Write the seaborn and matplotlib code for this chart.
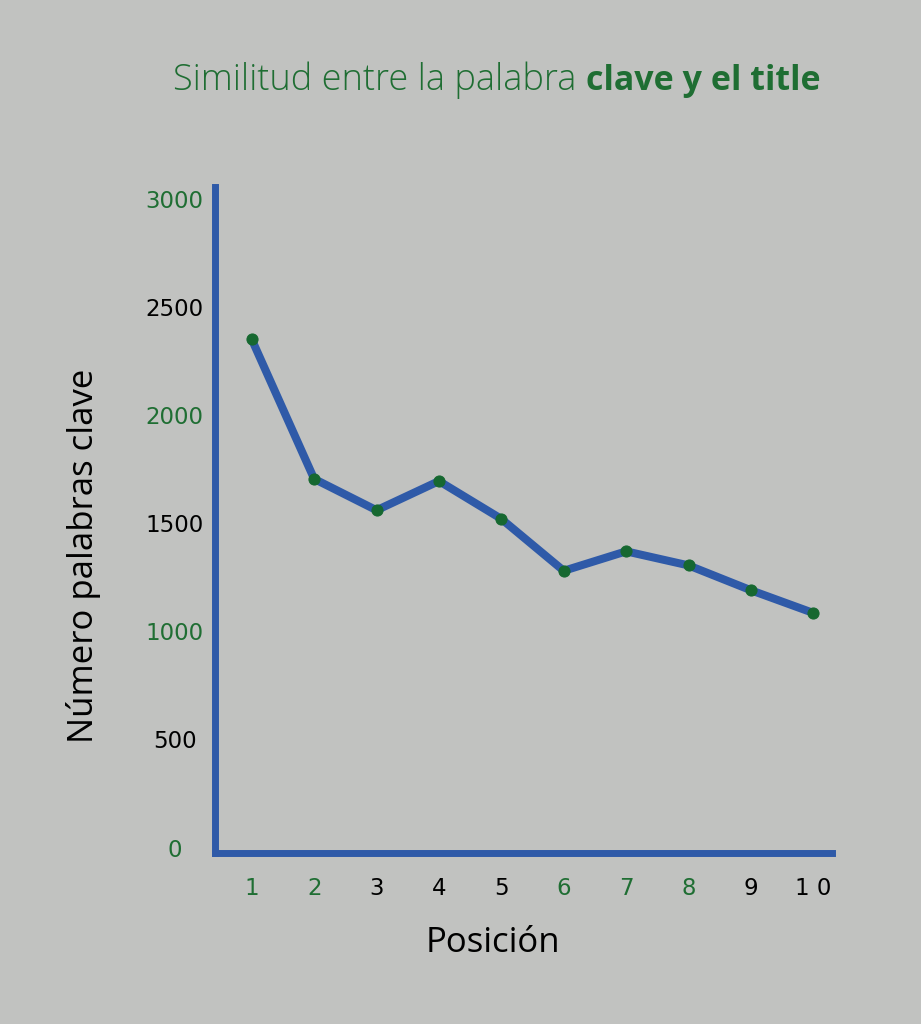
import matplotlib
matplotlib.use('Agg')
import matplotlib.pyplot as plt
import seaborn as sns
import pandas as pd

# data
posicion = [1, 2, 3, 4, 5, 6, 7, 8, 9, 10]
palabras = [2350, 1705, 1560, 1695, 1520, 1280, 1370, 1305, 1190, 1085]
x_labels = ['1', '2', '3', '4', '5', '6', '7', '8', '9', '1 0']
y_ticks = [0, 500, 1000, 1500, 2000, 2500, 3000]

bg = '#c1c2c0'
blue = '#2f5aa8'
green_dot = '#166830'
green_txt = '#1f6e33'
x_colors = [green_txt, green_txt, 'black', 'black', 'black', green_txt, green_txt, green_txt, 'black', 'black']
y_colors = [green_txt, 'black', green_txt, 'black', green_txt, 'black', green_txt]

sns.set_style('white')
plt.rcParams['font.family'] = ['Open Sans', 'DejaVu Sans']

df = pd.DataFrame({'Posición': posicion, 'Palabras': palabras})

fig = plt.figure(figsize=(9.21, 10.24), dpi=100, facecolor=bg)
ax = fig.add_axes([0.2334, 0.167, 0.670, 0.6504])
ax.set_facecolor(bg)

sns.lineplot(data=df, x='Posición', y='Palabras', ax=ax, color=blue, linewidth=5.8,
             marker='o', markersize=8, markerfacecolor=green_dot, markeredgecolor=green_dot)

ax.set_xlim(0.41, 10.30)
ax.set_ylim(-25, 3055)

for s in ['top', 'right']:
    ax.spines[s].set_visible(False)
for s in ['left', 'bottom']:
    ax.spines[s].set_color(blue)
    ax.spines[s].set_linewidth(5)

ax.set_xticks(posicion)
ax.set_xticklabels(x_labels, fontsize=16.5, family='DejaVu Sans')
ax.set_yticks(y_ticks)
ax.set_yticklabels([str(v) for v in y_ticks], fontsize=16.5, family='DejaVu Sans')
ax.tick_params(axis='both', length=0)
ax.tick_params(axis='x', pad=17)
ax.tick_params(axis='y', pad=29)
for lab, c in zip(ax.get_xticklabels(), x_colors):
    lab.set_color(c)
for lab, c in zip(ax.get_yticklabels(), y_colors):
    lab.set_color(c)
    lab.set_horizontalalignment('center')

ax.set_xlabel('Posición', fontsize=25, color='black')
ax.set_ylabel('Número palabras clave', fontsize=25, color='black')
ax.xaxis.set_label_coords(0.45, -0.11)
ax.yaxis.set_label_coords(-0.184, 0.446)

# two-weight title
t1 = fig.text(173 / 921, 1 - 90 / 1024, 'Similitud entre la palabra ', fontsize=26,
              color=green_txt, fontweight='light', va='baseline', ha='left')
fig.canvas.draw()
bb = t1.get_window_extent(renderer=fig.canvas.get_renderer())
fig.text(bb.x1 / fig.bbox.width, 1 - 90 / 1024, 'clave y el title', fontsize=24.5,
         color=green_txt, fontweight='bold', va='baseline', ha='left')

fig.savefig('out.png', dpi=100, facecolor=bg)
